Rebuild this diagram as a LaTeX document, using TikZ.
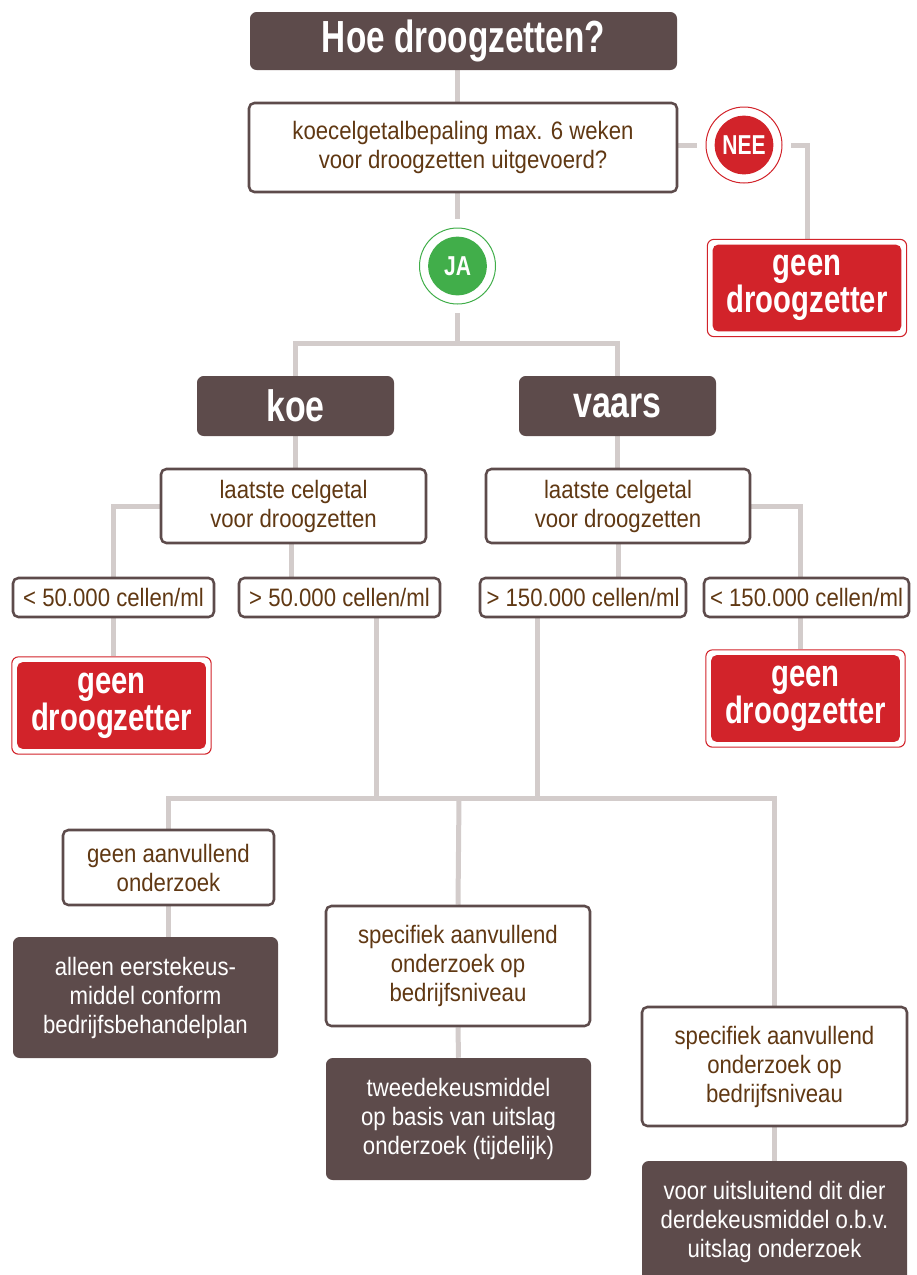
\documentclass[tikz,border=0pt]{standalone}
\usepackage{fontspec}
\setmainfont{Liberation Sans}[FakeStretch=0.88]
\newfontfamily\bcond{Liberation Sans Bold}[FakeStretch=0.77]
\newfontfamily\tcond{Liberation Sans Bold}[FakeStretch=0.74]
\usetikzlibrary{backgrounds}
\definecolor{dbrown}{HTML}{5D4B4B}
\definecolor{tbrown}{HTML}{603813}
\definecolor{lgray}{HTML}{D3CCCB}
\definecolor{rred}{HTML}{D2232A}
\definecolor{jgreen}{HTML}{41AE4A}
\newcommand\mytxt{\fontsize{18.9pt}{21.75pt}\selectfont}
\newcommand\mygeen{\bcond\fontsize{28.5pt}{26.5pt}\selectfont}
\begin{document}
\begin{tikzpicture}[x=0.75pt,y=-0.75pt,
  conn/.style={draw=lgray, line width=3.75pt},
  wbox/.style={rectangle, rounded corners=4pt, draw=dbrown, line width=1.9pt, fill=white, text=tbrown, align=center, inner sep=0pt, font=\mytxt},
  dbox/.style={rectangle, rounded corners=5pt, fill=dbrown, text=white, align=center, inner sep=0pt, font=\mytxt},
  hbox/.style={rectangle, rounded corners=5pt, fill=dbrown, text=white, inner sep=0pt, font=\bcond\fontsize{33pt}{34pt}\selectfont},
  geenbox/.style={rectangle, rounded corners=5pt, draw=rred, line width=0.8pt, fill=white, text=white, align=center, inner sep=0pt, font=\mygeen,
    minimum width=149.5pt, minimum height=73pt,
    path picture={\fill[rred, rounded corners=4pt] ([shift={(4pt,-4pt)}]path picture bounding box.north west) rectangle ([shift={(-4pt,4pt)}]path picture bounding box.south east);}},
  answer/.style={circle, draw=#1, line width=0.75pt, fill=white, minimum size=57pt, inner sep=0pt, outer sep=7pt, text=white, font=\bcond\fontsize{20.5pt}{20pt}\selectfont,
    path picture={\fill[#1] (path picture bounding box.center) circle (22pt);}}
]
\useasboundingbox (0,0) rectangle (917,1275);
\clip (0,0) rectangle (917,1275);

\node[hbox, minimum width=320.25pt, minimum height=43.5pt, font=\tcond\fontsize{33.75pt}{34pt}\selectfont] (title) at (463.5,41) {Hoe droogzetten?};
\node[wbox, minimum width=321pt, minimum height=66.75pt] (q) at (463,147.5) {koecelgetalbepaling max. 6 weken\\voor droogzetten uitgevoerd?};
\node[answer=rred] (nee) at (744,145) {NEE};
\node[geenbox] (geen1) at (807,288) {geen\\droogzetter};
\node[answer=jgreen] (ja) at (457.5,266) {JA};

\node[hbox, minimum width=147.75pt, minimum height=45pt] (koe) at (295.5,406) {koe};
\node[hbox, minimum width=147.75pt, minimum height=45pt] (vaars) at (617.5,406) {vaars};

\node[wbox, minimum width=198.75pt, minimum height=55.5pt] (lc1) at (293.5,506) {laatste celgetal\\voor droogzetten};
\node[wbox, minimum width=198pt, minimum height=55.5pt] (lc2) at (618,506) {laatste celgetal\\voor droogzetten};

\node[wbox, minimum width=150.75pt, minimum height=29.25pt] (lt50) at (113.5,597.5) {< 50.000 cellen/ml};
\node[wbox, minimum width=150.75pt, minimum height=29.25pt] (gt50) at (339.5,597.5) {> 50.000 cellen/ml};
\node[wbox, minimum width=154.5pt, minimum height=29.25pt] (gt150) at (583,597.5) {> 150.000 cellen/ml};
\node[wbox, minimum width=153.75pt, minimum height=29.25pt] (lt150) at (806.5,597.5) {< 150.000 cellen/ml};

\node[geenbox] (geen2) at (111.5,705.5) {geen\\droogzetter};
\node[geenbox] (geen3) at (805.5,698.5) {geen\\droogzetter};

\coordinate (j2) at (459,798);

\node[wbox, minimum width=158.25pt, minimum height=56.25pt] (gao) at (168.5,867.5) {geen aanvullend\\onderzoek};
\node[dbox, minimum width=198.75pt, minimum height=90.75pt] (alleen) at (145.5,997.5) {alleen eerstekeus-\\middel conform\\bedrijfsbehandelplan};
\node[wbox, minimum width=198pt, minimum height=90pt] (spec1) at (458,966) {specifiek aanvullend\\onderzoek op\\bedrijfsniveau};
\node[dbox, minimum width=198.75pt, minimum height=91.5pt] (tweede) at (458.5,1119) {tweedekeusmiddel\\op basis van uitslag\\onderzoek (tijdelijk)};
\node[wbox, minimum width=198.75pt, minimum height=89.25pt] (spec2) at (774.5,1066.5) {specifiek aanvullend\\onderzoek op\\bedrijfsniveau};
\node[dbox, minimum width=198.75pt, minimum height=90.75pt] (voor) at (774.5,1221.5) {voor uitsluitend dit dier\\derdekeusmiddel o.b.v.\\uitslag onderzoek};

\begin{scope}[on background layer]
  \draw[conn] (title.south -| ja.center) -- (q.north -| ja.center);
  \draw[conn] (q.south -| ja.center) -- (ja.north);
  \draw[conn] (q.east |- nee.center) -- (nee.west);
  \draw[conn] (nee.east) -| (geen1.north);
  \coordinate (j1) at (457.5,343);
  \draw[conn] (ja.south) -- (j1);
  \draw[conn] (koe.north) |- (j1) -| (vaars.north);
  \draw[conn] (koe.south) -- (koe.south |- lc1.north);
  \draw[conn] (vaars.south) -- (vaars.south |- lc2.north);
  \draw[conn] (lc1.west) -| (lt50.north);
  \draw[conn] ([xshift=-1.5]lc1.south) -- ([xshift=-1.5]lc1.south |- gt50.north);
  \draw[conn] (lc2.east) -| ([xshift=-4.5]lt150.north);
  \draw[conn] (lc2.south) -- (lc2.south |- gt150.north);
  \draw[conn] (lt50.south) -- (lt50.south |- geen2.north);
  \draw[conn] ([xshift=-4.5]lt150.south) -- ([xshift=-4.5]lt150.south |- geen3.north);
  \draw[conn] ([xshift=27.5]gt50.south) -- ([xshift=27.5]gt50.south |- j2);
  \draw[conn] ([xshift=-34]gt150.south) -- ([xshift=-34]gt150.south |- j2);
  \draw[conn] (gao.north) |- (j2) -| (spec2.north);
  \draw[conn] (j2) -- (spec1.north);
  \draw[conn] (gao.south) -- (gao.south |- alleen.north);
  \draw[conn] (spec1.south) -- (tweede.north);
  \draw[conn] (spec2.south) -- (voor.north);
\end{scope}
\end{tikzpicture}
\end{document}
